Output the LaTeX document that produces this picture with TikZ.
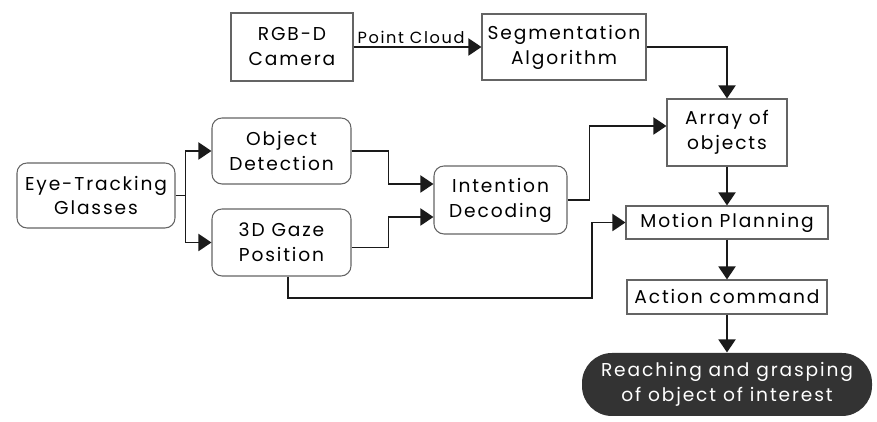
\documentclass[tikz,border=0pt]{standalone}
\usepackage{fontspec}
\setmainfont{Poppins}[LetterSpace=10]
\usetikzlibrary{arrows.meta}
\definecolor{boxgray}{RGB}{100,100,100}
\definecolor{linedark}{RGB}{26,26,26}
\definecolor{darkfill}{RGB}{51,51,51}

\begin{document}
\begin{tikzpicture}[
	sqbox/.style={draw=boxgray,line width=0.6pt,align=center,inner sep=0pt,font=\fontsize{10.6}{14.2}\selectfont},
	rndbox/.style={sqbox,rounded corners=2mm},
	flow/.style={draw=linedark,line width=1.1pt,-{Triangle[length=2.6mm,width=3.4mm]}}
	]
		\useasboundingbox (0,0) rectangle (17.54,8.44);
		\coordinate (cam_c) at (5.84,7.50);
		\coordinate (seg_c) at (11.28,7.50);
		\coordinate (arr_c) at (14.54,5.79);
		\coordinate (eye_c) at (1.92,4.53);
		\coordinate (obj_c) at (5.63,5.42);
		\coordinate (gaze_c) at (5.63,3.59);
		\coordinate (int_c) at (10.01,4.44);
		\coordinate (mot_c) at (14.54,3.99);
		\coordinate (act_c) at (14.54,2.50);
		\coordinate (reach_c) at (14.54,0.75);
		\coordinate (bend) at (11.84,2.48);
		\node[sqbox,minimum width=2.44cm,minimum height=1.36cm] (cam) at (cam_c) {RGB-D\\Camera};
		\node[sqbox,minimum width=3.28cm,minimum height=1.32cm] (seg) at (seg_c) {Segmentation\\Algorithm};
		\node[sqbox,minimum width=2.40cm,minimum height=1.34cm] (arr) at (arr_c) {Array of\\objects};
		\node[rndbox,minimum width=3.16cm,minimum height=1.30cm] (eye) at (eye_c) {Eye-Tracking\\Glasses};
		\node[rndbox,minimum width=2.78cm,minimum height=1.32cm] (obj) at (obj_c) {Object\\Detection};
		\node[rndbox,minimum width=2.78cm,minimum height=1.34cm] (gaze) at (gaze_c) {3D Gaze\\Position};
		\node[rndbox,minimum width=2.66cm,minimum height=1.36cm] (int) at (int_c) {Intention\\Decoding};
		\node[sqbox,minimum width=4.04cm,minimum height=0.66cm] (mot) at (mot_c) {Motion Planning};
		\node[sqbox,minimum width=4.00cm,minimum height=0.68cm] (act) at (act_c) {Action command};
		\node[sqbox,draw=none,fill=darkfill,text=white,rounded corners=6mm,minimum width=5.80cm,minimum height=1.26cm] (reach) at (reach_c) {Reaching and grasping\\of object of interest};
	
		\draw[flow] (cam.east) -- node[above=0.2mm,pos=0.45,font=\fontsize{9.2}{11}\selectfont,inner sep=0.5pt] (pc) {Point Cloud} (seg.west);
		\draw[flow] (seg.east) -| (arr.north);
		\draw[flow] (eye.east) -- ++(0.2,0) |- (obj.west);
		\draw[flow] (eye.east) -- ++(0.2,0) |- (gaze.west);
		\draw[flow] (obj.east) -- ++(0.74,0) |- ([yshift=0.32cm]int.west);
		\draw[flow] ([yshift=-0.1cm]gaze.east) -- ++(0.74,0) |- ([yshift=-0.34cm]int.west);
		\draw[flow] (int.east) -- ++(0.44,0) |- ([yshift=0.13cm]arr.west);
		\draw[flow] (arr.south) -- (mot.north);
		\draw[flow] ([xshift=0.13cm]gaze.south) |- (bend) |- (mot.west);
		\draw[flow] (mot.south) -- (act.north);
		\draw[flow] (act.south) -- (reach.north);
	\end{tikzpicture}
\end{document}
